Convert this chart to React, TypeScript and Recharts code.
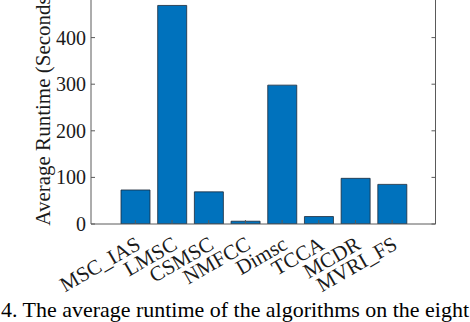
import { BarChart, Bar, XAxis, YAxis } from "recharts";

const algorithms = ["MSC_IAS", "LMSC", "CSMSC", "NMFCC", "Dimsc", "TCCA", "MCDR", "MVRI_FS"];
const runtimes = [73, 469, 69, 6, 298, 16, 98, 85];
const yTicks = [0, 100, 200, 300, 400, 500];

const data = algorithms.map((name, i) => ({ name, runtime: runtimes[i] }));

// chart is shifted up so the top of the axes box (500) falls just above the page
const SHIFT = 20;
const PLOT_LEFT = 91;
const PLOT_RIGHT = 435.5;
const PLOT_BOTTOM = 224 + SHIFT;
const AXIS = "#5a5a5a";
const FONT = "'Liberation Serif', 'Times New Roman', serif";

function LeftTick({ y, payload }: any) {
  return (
    <g>
      <line x1={PLOT_LEFT} x2={PLOT_LEFT + 4} y1={y} y2={y} stroke={AXIS} />
      <text
        x={PLOT_LEFT - 5}
        y={y}
        textAnchor="end"
        dominantBaseline="central"
        style={{ fontFamily: FONT, fontSize: 20 }}
        fill="#1a1a1a"
      >
        {payload.value}
      </text>
    </g>
  );
}

function RightTick({ y }: any) {
  return <line x1={PLOT_RIGHT - 4} x2={PLOT_RIGHT} y1={y} y2={y} stroke={AXIS} />;
}

function BottomTick({ x, payload }: any) {
  const tx = x + 3;
  const ty = PLOT_BOTTOM + 18;
  return (
    <g>
      <line x1={x} x2={x} y1={PLOT_BOTTOM} y2={PLOT_BOTTOM - 4} stroke={AXIS} />
      <text
        x={tx}
        y={ty}
        textAnchor="end"
        dominantBaseline="central"
        transform={`rotate(-30, ${tx}, ${ty})`}
        style={{ fontFamily: FONT, fontSize: 21 }}
        fill="#1a1a1a"
      >
        {payload.value}
      </text>
    </g>
  );
}

export default function App() {
  return (
    <div
      style={{
        position: "absolute",
        left: 0,
        top: 0,
        width: 470,
        height: 322,
        overflow: "hidden",
        background: "#fff",
      }}
    >
      <div style={{ position: "absolute", left: 0, top: -SHIFT }}>
        <BarChart
          width={470}
          height={322 + SHIFT}
          data={data}
          margin={{ top: 11, right: 470 - PLOT_RIGHT - 10, left: PLOT_LEFT - 60, bottom: 8 }}
        >
          <XAxis
            dataKey="name"
            height={90}
            padding={{ left: 26, right: 25 }}
            tick={<BottomTick />}
            tickLine={false}
            axisLine={{ stroke: AXIS }}
            interval={0}
          />
          <YAxis
            yAxisId="left"
            width={60}
            domain={[0, 500]}
            ticks={yTicks}
            allowDataOverflow
            tick={<LeftTick />}
            tickLine={false}
            axisLine={{ stroke: AXIS }}
          />
          <YAxis
            yAxisId="right"
            orientation="right"
            width={10}
            domain={[0, 500]}
            ticks={yTicks}
            allowDataOverflow
            tick={<RightTick />}
            tickLine={false}
            axisLine={{ stroke: AXIS }}
          />
          <Bar
            yAxisId="left"
            dataKey="runtime"
            barSize={29}
            fill="#0072BD"
            stroke="#1c2a3a"
            strokeWidth={0.8}
            isAnimationActive={false}
          />
        </BarChart>
      </div>

      {/* axis title and figure caption */}
      <svg
        width={470}
        height={322}
        style={{ position: "absolute", left: 0, top: 0, pointerEvents: "none" }}
      >
        <text
          x={50}
          y={107.5}
          textAnchor="middle"
          transform="rotate(-90, 50, 107.5)"
          style={{ fontFamily: FONT, fontSize: 21 }}
          fill="#1a1a1a"
        >
          Average Runtime (Seconds)
        </text>
        <text
          x={1}
          y={317}
          textLength={468}
          lengthAdjust="spacingAndGlyphs"
          style={{ fontFamily: FONT, fontSize: 22 }}
          fill="#000"
        >
          4. The average runtime of the algorithms on the eight
        </text>
      </svg>
    </div>
  );
}
